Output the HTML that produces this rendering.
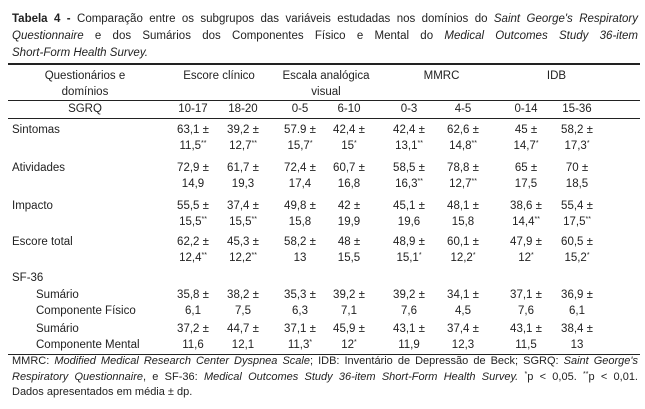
<!DOCTYPE html>
<html><head><meta charset="utf-8"><style>
body{margin:0;background:#fff;}
#p{position:relative;width:645px;height:409px;overflow:hidden;font-family:"Liberation Sans",sans-serif;font-size:11.5px;color:#222;}
.t{position:absolute;left:12px;width:626px;line-height:16.5px;white-space:nowrap;}
.j{text-align:justify;text-align-last:justify;white-space:normal;}
.a{position:absolute;white-space:nowrap;line-height:16px;}
.c{position:absolute;width:54px;text-align:center;white-space:nowrap;line-height:16px;}
.h{position:absolute;background:#222;}
sup{font-size:7px;vertical-align:4px;line-height:0;}
.l{left:12px;}
.c1{left:166px}.c2{left:216px}.c3{left:273px}.c4{left:322px}.c5{left:382px}.c6{left:436px}.c7{left:499px}.c8{left:550px}
</style></head><body><div id="p">
<div class="t j" style="top:11px"><b>Tabela 4 -</b> Comparação entre os subgrupos das variáveis estudadas nos domínios do <i>Saint George's Respiratory</i></div>
<div class="t j" style="top:28px"><i>Questionnaire</i> e dos Sumários dos Componentes Físico e Mental do <i>Medical Outcomes Study 36-item</i></div>
<div class="t" style="top:45px"><i>Short-Form Health Survey.</i></div>
<div class="h" style="left:8px;width:632px;top:63px;height:1.5px"></div>
<div class="a" style="left:30px;top:68px;width:110px;text-align:center">Questionários e<br>domínios</div>
<div class="a" style="left:168px;top:68px;width:102px;text-align:center">Escore clínico</div>
<div class="a" style="left:276px;top:68px;width:100px;text-align:center">Escala analógica<br>visual</div>
<div class="a" style="left:388px;top:68px;width:107px;text-align:center">MMRC</div>
<div class="a" style="left:503px;top:68px;width:107px;text-align:center">IDB</div>
<div class="h" style="left:8px;width:632px;top:100px;height:1px"></div>
<div class="a" style="left:30px;top:101px;width:110px;text-align:center">SGRQ</div>
<div class="c c1" style="top:101px">10-17</div><div class="c c2" style="top:101px">18-20</div><div class="c c3" style="top:101px">0-5</div><div class="c c4" style="top:101px">6-10</div><div class="c c5" style="top:101px">0-3</div><div class="c c6" style="top:101px">4-5</div><div class="c c7" style="top:101px">0-14</div><div class="c c8" style="top:101px">15-36</div>
<div class="h" style="left:8px;width:632px;top:118px;height:1px"></div>

<div class="a l" style="top:122px">Sintomas</div>
<div class="c c1" style="top:122px">63,1 ±<br>11,5<sup>**</sup></div><div class="c c2" style="top:122px">39,2 ±<br>12,7<sup>**</sup></div><div class="c c3" style="top:122px">57.9 ±<br>15,7<sup>*</sup></div><div class="c c4" style="top:122px">42,4 ±<br>15<sup>*</sup></div><div class="c c5" style="top:122px">42,4 ±<br>13,1<sup>**</sup></div><div class="c c6" style="top:122px">62,6 ±<br>14,8<sup>**</sup></div><div class="c c7" style="top:122px">45 ±<br>14,7<sup>*</sup></div><div class="c c8" style="top:122px">58,2 ±<br>17,3<sup>*</sup></div>

<div class="a l" style="top:160px">Atividades</div>
<div class="c c1" style="top:160px">72,9 ±<br>14,9</div><div class="c c2" style="top:160px">61,7 ±<br>19,3</div><div class="c c3" style="top:160px">72,4 ±<br>17,4</div><div class="c c4" style="top:160px">60,7 ±<br>16,8</div><div class="c c5" style="top:160px">58,5 ±<br>16,3<sup>**</sup></div><div class="c c6" style="top:160px">78,8 ±<br>12,7<sup>**</sup></div><div class="c c7" style="top:160px">65 ±<br>17,5</div><div class="c c8" style="top:160px">70 ±<br>18,5</div>

<div class="a l" style="top:198px">Impacto</div>
<div class="c c1" style="top:198px">55,5 ±<br>15,5<sup>**</sup></div><div class="c c2" style="top:198px">37,4 ±<br>15,5<sup>**</sup></div><div class="c c3" style="top:198px">49,8 ±<br>15,8</div><div class="c c4" style="top:198px">42 ±<br>19,9</div><div class="c c5" style="top:198px">45,1 ±<br>19,6</div><div class="c c6" style="top:198px">48,1 ±<br>15,8</div><div class="c c7" style="top:198px">38,6 ±<br>14,4<sup>**</sup></div><div class="c c8" style="top:198px">55,4 ±<br>17,5<sup>**</sup></div>

<div class="a l" style="top:234px">Escore total</div>
<div class="c c1" style="top:234px">62,2 ±<br>12,4<sup>**</sup></div><div class="c c2" style="top:234px">45,3 ±<br>12,2<sup>**</sup></div><div class="c c3" style="top:234px">58,2 ±<br>13</div><div class="c c4" style="top:234px">48 ±<br>15,5</div><div class="c c5" style="top:234px">48,9 ±<br>15,1<sup>*</sup></div><div class="c c6" style="top:234px">60,1 ±<br>12,2<sup>*</sup></div><div class="c c7" style="top:234px">47,9 ±<br>12<sup>*</sup></div><div class="c c8" style="top:234px">60,5 ±<br>15,2<sup>*</sup></div>

<div class="a l" style="top:270px">SF-36</div>
<div class="a" style="left:36px;top:287px">Sumário<br>Componente Físico</div>
<div class="c c1" style="top:287px">35,8 ±<br>6,1</div><div class="c c2" style="top:287px">38,2 ±<br>7,5</div><div class="c c3" style="top:287px">35,3 ±<br>6,3</div><div class="c c4" style="top:287px">39,2 ±<br>7,1</div><div class="c c5" style="top:287px">39,2 ±<br>7,6</div><div class="c c6" style="top:287px">34,1 ±<br>4,5</div><div class="c c7" style="top:287px">37,1 ±<br>7,6</div><div class="c c8" style="top:287px">36,9 ±<br>6,1</div>

<div class="a" style="left:36px;top:321px">Sumário<br>Componente Mental</div>
<div class="c c1" style="top:321px">37,2 ±<br>11,6</div><div class="c c2" style="top:321px">44,7 ±<br>12,1</div><div class="c c3" style="top:321px">37,1 ±<br>11,3<sup>*</sup></div><div class="c c4" style="top:321px">45,9 ±<br>12<sup>*</sup></div><div class="c c5" style="top:321px">43,1 ±<br>11,9</div><div class="c c6" style="top:321px">37,4 ±<br>12,3</div><div class="c c7" style="top:321px">43,1 ±<br>11,5</div><div class="c c8" style="top:321px">38,4 ±<br>13</div>

<div class="h" style="left:8px;width:632px;top:354px;height:1px"></div>
<div class="t j" style="top:354px;font-size:11px;line-height:15.5px">MMRC: <i>Modified Medical Research Center Dyspnea Scale</i>; IDB: Inventário de Depressão de Beck; SGRQ: <i>Saint George's</i></div>
<div class="t j" style="top:369.5px;font-size:11px;line-height:15.5px"><i>Respiratory Questionnaire</i>, e SF-36: <i>Medical Outcomes Study 36-item Short-Form Health Survey.</i> <sup>*</sup>p &lt; 0,05. <sup>**</sup>p &lt; 0,01.</div>
<div class="t" style="top:385px;font-size:11px;line-height:15.5px">Dados apresentados em média ± dp.</div>
</div></body></html>
